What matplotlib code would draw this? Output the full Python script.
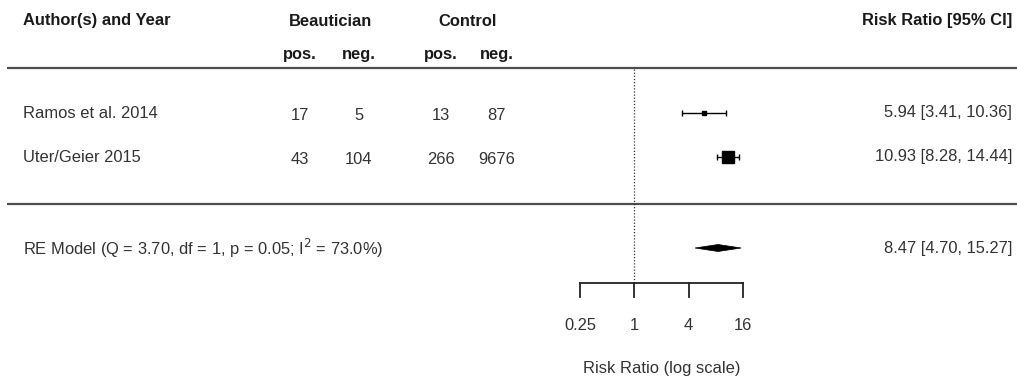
import matplotlib
matplotlib.use("Agg")
import matplotlib.pyplot as plt
from matplotlib.patches import Polygon

plt.rcParams['font.family'] = ['Liberation Sans', 'DejaVu Sans']

# ---- data ----
studies = ["Ramos et al. 2014", "Uter/Geier 2015"]
beaut_pos = [17, 43]
beaut_neg = [5, 104]
ctrl_pos = [13, 266]
ctrl_neg = [87, 9676]
rr = [5.94, 10.93]
ci_low = [3.41, 8.28]
ci_high = [10.36, 14.44]
weights_marker = [3, 8]  # marker sizes (pt)
re_label = "RE Model (Q = 3.70, df = 1, p = 0.05; I$^2$ = 73.0%)"
re_est, re_low, re_high = 8.47, 4.70, 15.27
xticks = [0.25, 1, 4, 16]
xtick_labels = ["0.25", "1", "4", "16"]

W, H = 1017, 378
fig = plt.figure(figsize=(W / 100, H / 100), dpi=100)
ax = fig.add_axes([0, 0, 1, 1])
ax.set_xlim(0, W)
ax.set_ylim(H, 0)
ax.axis('off')

FS = 11.9
txt = '#333333'
hdr = '#1a1a1a'

# header
ax.text(23, 21, "Author(s) and Year", fontsize=FS, fontweight='bold', color=hdr, va='center', ha='left')
ax.text(331, 22, "Beautician", fontsize=FS, fontweight='bold', color=hdr, va='center', ha='center')
ax.text(468, 22, "Control", fontsize=FS, fontweight='bold', color=hdr, va='center', ha='center')
col_x = [300, 359, 441, 497]
for x, lab in zip(col_x, ["pos.", "neg.", "pos.", "neg."]):
    ax.text(x, 54, lab, fontsize=FS, fontweight='bold', color=hdr, va='center', ha='center')
ax.text(1012, 21, "Risk Ratio [95% CI]", fontsize=FS, fontweight='bold', color=hdr, va='center', ha='right')

# rules
for y in (68, 204):
    ax.plot([7, W], [y, y], color='#4d4d4d', lw=1.6, solid_capstyle='butt')

row_y = [113, 157]
for i, name in enumerate(studies):
    y = row_y[i]
    ax.text(23, y, name, fontsize=FS, color=txt, va='center', ha='left')
    for x, v in zip(col_x, [beaut_pos[i], beaut_neg[i], ctrl_pos[i], ctrl_neg[i]]):
        ax.text(x, y + 2, str(v), fontsize=FS, color=txt, va='center', ha='center')
    ax.text(1012, y, f"{rr[i]:.2f} [{ci_low[i]:.2f}, {ci_high[i]:.2f}]", fontsize=FS,
            color=txt, va='center', ha='right')

re_y = 248
ax.text(23, re_y, re_label, fontsize=FS, color=txt, va='center', ha='left')
ax.text(1012, re_y, f"{re_est:.2f} [{re_low:.2f}, {re_high:.2f}]", fontsize=FS,
        color=txt, va='center', ha='right')

# forest axes (log scale)
x0, x1 = 580, 743
fa = fig.add_axes([x0 / W, 0, (x1 - x0) / W, 1])
fa.set_xscale('log')
fa.set_xlim(xticks[0], xticks[-1])
fa.set_ylim(H, 0)
fa.axis('off')

fa.vlines(1, 69, 280, colors='#333333', linestyles=(0, (1, 1.5)), lw=0.9, clip_on=False)

for i in range(len(studies)):
    y = row_y[i]
    fa.errorbar([rr[i]], [y], xerr=[[rr[i] - ci_low[i]], [ci_high[i] - rr[i]]],
                fmt='s', color='black', ms=weights_marker[i], elinewidth=1.0,
                capsize=2.5, capthick=1.0, clip_on=False)

dh = 3.5
diamond = Polygon([(re_low, re_y), (re_est, re_y - dh), (re_high, re_y), (re_est, re_y + dh)],
                  closed=True, facecolor='black', edgecolor='black', lw=0.5, clip_on=False)
fa.add_patch(diamond)

axis_y = 283
fa.plot([xticks[0], xticks[-1]], [axis_y, axis_y], color='#222222', lw=1.3, clip_on=False)
for t, lab in zip(xticks, xtick_labels):
    fa.plot([t, t], [axis_y, axis_y + 14], color='#222222', lw=1.3, clip_on=False)
    fa.text(t, 326, lab, fontsize=FS, color=txt, ha='center', va='center')
fa.text(2, 369, "Risk Ratio (log scale)", fontsize=FS, color=txt, ha='center', va='center')

fig.savefig("out.png", dpi=100)
